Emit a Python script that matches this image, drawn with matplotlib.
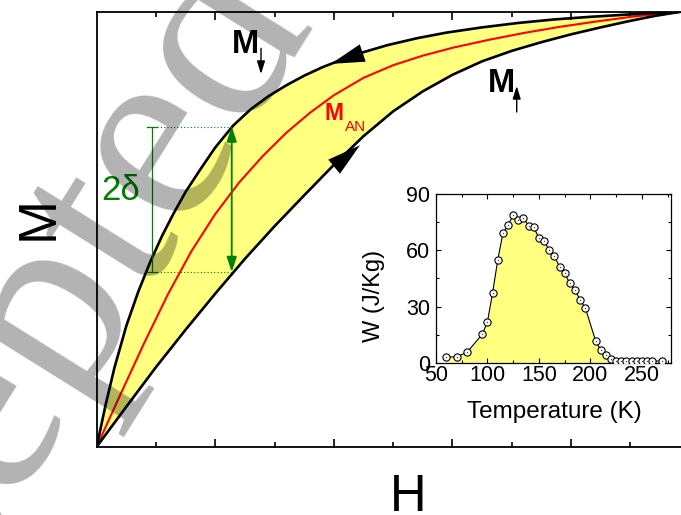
import matplotlib
matplotlib.use('Agg')
import matplotlib.pyplot as plt
from matplotlib.ticker import FixedLocator, MultipleLocator

plt.rcParams['font.family'] = ['Liberation Sans', 'DejaVu Sans']

FW, FH = 681, 515

# ---- main schematic: hysteresis branches (H arbitrary units, M normalised) ----
h_down = [0, 0.15, 0.3, 0.5, 0.7, 0.9, 1.1, 1.3, 1.5, 1.75, 2.0, 2.3, 2.6, 2.9, 3.2, 3.5,
          3.8, 4.1, 4.5, 4.9, 5.4, 5.9, 6.5, 7.1, 7.7, 8.3, 8.9, 9.4, 9.85]
m_down = [0, 0.096, 0.182, 0.278, 0.356, 0.424, 0.484, 0.537, 0.586, 0.638, 0.688, 0.738,
          0.776, 0.806, 0.831, 0.853, 0.872, 0.888, 0.907, 0.923, 0.939, 0.952, 0.964,
          0.974, 0.982, 0.988, 0.993, 0.997, 1.0]

h_up = [0, 0.5, 1.0, 1.5, 2.0, 2.5, 3.0, 3.5, 4.0, 4.5, 5.0, 5.5, 6.0, 6.5, 7.0, 7.5, 8.0,
        8.5, 9.0, 9.4, 9.85]
m_up = [0, 0.092, 0.183, 0.269, 0.352, 0.432, 0.507, 0.578, 0.648, 0.714, 0.771, 0.817,
        0.855, 0.886, 0.910, 0.930, 0.948, 0.964, 0.979, 0.990, 1.0]

h_an = [0, 0.4, 0.8, 1.2, 1.6, 2.0, 2.4, 2.8, 3.2, 3.6, 4.0, 4.5, 5.0, 5.5, 6.0, 6.6, 7.2,
        7.8, 8.4, 9.0, 9.4, 9.85]
m_an = [0, 0.12, 0.238, 0.35, 0.45, 0.535, 0.607, 0.668, 0.722, 0.768, 0.808, 0.848, 0.877,
        0.899, 0.917, 0.935, 0.951, 0.965, 0.977, 0.988, 0.994, 1.0]

# 2-delta marker
delta_h_bar = 0.927
delta_h_arrow = 2.277
delta_m_low = 0.4016
delta_m_high = 0.736

# ---- inset: W vs temperature ----
temp_k = [60, 70, 80, 95, 100, 105, 110, 115, 120, 125, 130, 135, 140, 145, 150, 155, 160,
          165, 170, 175, 180, 185, 190, 195, 205, 210, 215, 220, 225, 230, 235, 240, 245,
          250, 255, 260, 270]
w_jkg = [2.9, 3.2, 5.5, 15.2, 21.9, 37.4, 54.9, 69.2, 73.5, 78.8, 76.1, 77.5, 73.1, 72.4,
         66.5, 65.0, 60.2, 57.0, 51.3, 47.8, 42.4, 38.9, 33.5, 29.4, 11.8, 6.8, 4.0, 1.8,
         1.0, 0.9, 0.9, 0.9, 0.9, 0.9, 0.9, 0.9, 0.9]
inset_xticks = [50, 100, 150, 200, 250]
inset_yticks = [0, 30, 60, 90]

YELLOW = '#ffff80'
GREEN = '#008000'


def P(px, py):
    return (px / FW, 1 - py / FH)


fig = plt.figure(figsize=(FW / 100, FH / 100), dpi=100)
ax = fig.add_axes([96.7 / FW, 1 - 446.7 / FH, 593 / FW, 435 / FH])
ax.set_xlim(0, 10)
ax.set_ylim(0, 1)

poly_x = h_down + h_up[::-1]
poly_y = m_down + m_up[::-1]
ax.fill(poly_x, poly_y, color=YELLOW, lw=0, zorder=1)
ax.plot(h_down, m_down, color='k', lw=1.9, zorder=3, solid_capstyle='round', solid_joinstyle='round')
ax.plot(h_up, m_up, color='k', lw=1.9, zorder=3, solid_capstyle='round', solid_joinstyle='round')
ax.plot(h_an, m_an, color='#ff0000', lw=1.5, zorder=2, solid_joinstyle='round')

# direction arrowheads on branches
ax.annotate('', xy=(3.95, 0.880), xytext=(4.55, 0.908),
            arrowprops=dict(arrowstyle='-|>,head_length=1.1,head_width=0.3',
                            mutation_scale=22, lw=0, color='k', shrinkA=0, shrinkB=0), zorder=4)
ax.annotate('', xy=(4.44, 0.693), xytext=(3.98, 0.641),
            arrowprops=dict(arrowstyle='-|>,head_length=1.1,head_width=0.3',
                            mutation_scale=22, lw=0, color='k', shrinkA=0, shrinkB=0), zorder=4)

# 2 delta bar + dotted guides + double arrow
cap = 0.085
ax.plot([delta_h_bar, delta_h_bar], [delta_m_low, delta_m_high], color=GREEN, lw=0.9, zorder=4)
for m in (delta_m_low, delta_m_high):
    ax.plot([delta_h_bar - cap, delta_h_bar + cap], [m, m], color=GREEN, lw=0.9, zorder=4)
    ax.plot([delta_h_bar + cap, delta_h_arrow], [m, m], color=GREEN, lw=0.8, ls=(0, (1, 2)), zorder=4)
ax.annotate('', xy=(delta_h_arrow, delta_m_high), xytext=(delta_h_arrow, delta_m_low),
            arrowprops=dict(arrowstyle='<|-|>,head_length=0.9,head_width=0.3',
                            mutation_scale=10, lw=1.3, color=GREEN, shrinkA=0, shrinkB=0), zorder=4)

ax.xaxis.set_major_locator(FixedLocator([2, 4, 6, 8]))
ax.xaxis.set_minor_locator(FixedLocator([1, 3, 5, 7, 9]))
ax.set_yticks([])
ax.tick_params(axis='x', which='both', direction='in', top=True, bottom=True,
               labelbottom=False, width=1.2)
ax.tick_params(axis='x', which='major', length=5.8)
ax.tick_params(axis='x', which='minor', length=3.3)
for s in ('left', 'bottom', 'top'):
    ax.spines[s].set_linewidth(1.3)
ax.spines['right'].set_visible(False)

# labels / annotations
fig.text(*P(53, 218.5), 'M', rotation=90, ha='center', va='baseline',
         rotation_mode='anchor', fontsize=38)
fig.text(*P(408, 511), 'H', ha='center', va='baseline', fontsize=36.5)
fig.text(*P(232, 52.7), 'M', ha='left', va='baseline', fontsize=23.5, fontweight='bold')
fig.text(*P(488, 91.7), 'M', ha='left', va='baseline', fontsize=23.5, fontweight='bold')
fig.text(*P(325, 120), 'M', ha='left', va='baseline', fontsize=16.5, fontweight='bold', color='#ff0000')
fig.text(*P(345, 131), 'AN', ha='left', va='baseline', fontsize=11, color='#ff0000')
fig.text(*P(101, 200), '2δ', ha='left', va='baseline', fontsize=25, color=GREEN)

ax.annotate('', xy=P(261, 74), xytext=P(261, 48.3), xycoords='figure fraction',
            textcoords='figure fraction',
            arrowprops=dict(arrowstyle='-|>,head_length=0.7,head_width=0.22',
                            mutation_scale=11, lw=1.0, color='k', shrinkA=0, shrinkB=0))
ax.annotate('', xy=P(516.7, 86), xytext=P(516.7, 112), xycoords='figure fraction',
            textcoords='figure fraction',
            arrowprops=dict(arrowstyle='-|>,head_length=0.7,head_width=0.22',
                            mutation_scale=11, lw=1.0, color='k', shrinkA=0, shrinkB=0))

# ---- inset ----
ins = fig.add_axes([436 / FW, 1 - 362.7 / FH, 234.7 / FW, 168.4 / FH])
ins.set_facecolor('white')
ins.fill_between(temp_k, w_jkg, 0, color=YELLOW, lw=0, zorder=1)
ins.plot(temp_k, w_jkg, color='k', lw=0.8, zorder=2)
ins.plot(temp_k, w_jkg, 'o', ms=5.2, mfc='white', mec='k', mew=0.8, zorder=3)
ins.plot(temp_k, w_jkg, 'o', ms=1.0, mfc='#444444', mec='none', zorder=4)
ins.set_xlim(50, 278)
ins.set_ylim(0, 90)
ins.set_xticks(inset_xticks)
ins.set_yticks(inset_yticks)
ins.xaxis.set_minor_locator(MultipleLocator(25))
ins.yaxis.set_minor_locator(MultipleLocator(15))
ins.tick_params(which='both', direction='in', top=True, right=True, width=0.8,
                labelsize=15.5)
ins.tick_params(which='major', length=3.3)
ins.tick_params(which='minor', length=2.0)
ins.tick_params(axis='x', pad=1.5)
ins.tick_params(axis='y', pad=4)
for s in ins.spines.values():
    s.set_linewidth(0.9)
fig.text(*P(380, 295.5), 'W (J/Kg)', rotation=90, ha='center', va='baseline',
         rotation_mode='anchor', fontsize=17)
fig.text(*P(554, 418.3), 'Temperature (K)', ha='center', va='baseline', fontsize=17.5)

# ---- watermark ----
fig.text(*P(50.2, 444.7), 'Accepted', rotation=58, ha='center', va='baseline',
         rotation_mode='anchor', fontsize=190, family='Liberation Serif',
         color='k', alpha=0.3, zorder=10)

fig.savefig('out.png', dpi=100)
